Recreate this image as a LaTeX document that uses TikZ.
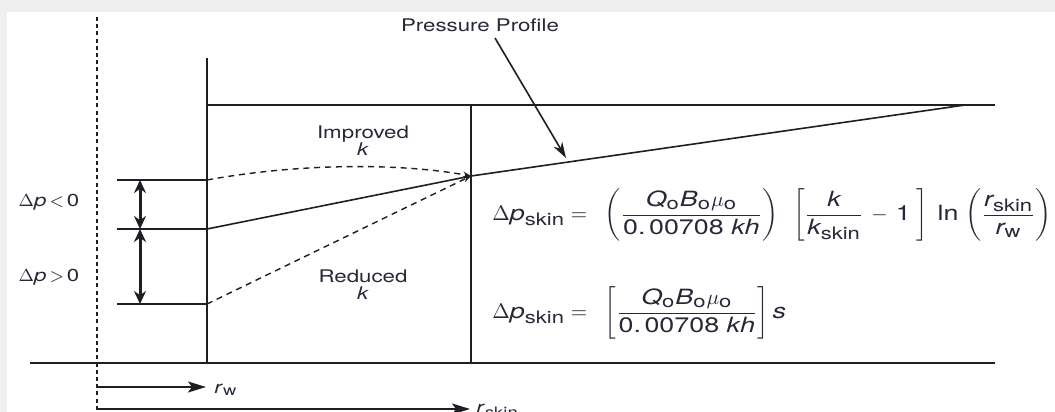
\documentclass[tikz,border=0pt]{standalone}
\usepackage{fix-cm}
\usepackage{amsmath}
\usepackage{fontspec}
\setmainfont[FakeStretch=1.28]{TeX Gyre Heros}
\usetikzlibrary{arrows.meta,positioning,calc}
\definecolor{ink}{HTML}{1E1E24}
\definecolor{textink}{HTML}{262838}
\definecolor{framegray}{HTML}{EFEFEF}
\DeclareMathSizes{10.5}{10.5}{8.6}{7}
\DeclareMathSizes{8.7}{8.7}{7.2}{5.8}
\newcommand{\iv}[1]{\textit{#1}}
\newcommand{\ssub}[1]{_{\text{#1}}}
\tikzset{
  axis/.style={draw=ink, line width=0.8pt},
  profile/.style={draw=ink, line width=0.8pt},
  dashprofile/.style={draw=ink, line width=0.7pt, dash pattern=on 3pt off 2.4pt, -{Stealth[length=4pt,width=3pt]}},
  wellaxis/.style={draw=ink, line width=1pt, dash pattern=on 2pt off 1.6pt},
  dimarrow/.style={{Stealth[length=6.5pt,width=6pt]}-{Stealth[length=6.5pt,width=6pt]}, line width=1.5pt, draw=ink},
  radarrow/.style={-{Stealth[length=9pt,width=5.5pt,inset=2pt]}, line width=0.9pt, draw=ink},
  pointer/.style={-{Stealth[length=8pt,width=5pt]}, line width=0.8pt, draw=ink},
  lbl/.style={font=\fontsize{8.7}{8.5}\selectfont, text=textink, inner sep=0pt, align=center},
  eqn/.style={font=\fontsize{10.5}{12}\selectfont, text=textink, inner sep=0pt, anchor=west}
}

\begin{document}
\begin{tikzpicture}[x=0.5pt,y=-0.5pt]
  \fill[framegray] (0,0) rectangle (1055,412);
  \fill[white] (7,12) rectangle (1055,412);
  \useasboundingbox (0,0) rectangle (1055,412);

  \coordinate (axtop) at (97,17);
  \coordinate (axbot) at (97,412);
  \coordinate (walltop) at (207,58);
  \coordinate (wallbot) at (207,363);
  \coordinate (skintop) at (471,105);
  \coordinate (skinbot) at (471,363);
  \coordinate (farend) at (995,105);
  \coordinate (meet) at (965,105);
  \coordinate (bleft) at (30,363);
  \coordinate (bright) at (995,363);
  \coordinate (hi) at (207,180);
  \coordinate (mid) at (207,229);
  \coordinate (lo) at (207,304);
  \coordinate (hiL) at (117,180);
  \coordinate (midL) at (117,229);
  \coordinate (loL) at (117,304);
  \coordinate (hiA) at (140,180);
  \coordinate (midA) at (140,229);
  \coordinate (loA) at (140,304);
  \coordinate (conv) at (471,176);

  \draw[wellaxis] (axtop) -- (axbot);
  \draw[axis] (walltop) -- (wallbot);
  \draw[axis] (wallbot |- skintop) -- (farend);
  \draw[axis] (skintop) -- (skinbot);
  \draw[axis] (bleft) -- (bright);
  \draw[axis] (hiL) -- (hi);
  \draw[axis] (midL) -- (mid);
  \draw[axis] (loL) -- (lo);

  \draw[profile] (mid) -- (conv) -- (meet);
  \draw[dashprofile] (hi) .. controls (300,163) and (400,163) .. (conv);
  \draw[dashprofile] (lo) -- (conv);

  \draw[dimarrow] (hiA) -- (midA);
  \draw[dimarrow] (midA) -- (loA);

  \node[lbl] (dpneg) at (49,202) {$\Delta\iv{p}\,{<}\,\text{0}$};
  \node[lbl] (dppos) at (49,277) {$\Delta\iv{p}\,{>}\,\text{0}$};
  \node[lbl] (improved) at (363,141) {Improved\\\iv{k}};
  \node[lbl] (reduced) at (363,285) {Reduced\\\iv{k}};

  \node[lbl] (title) at (480,25) {Pressure Profile};
  \coordinate (tip) at (566,158);
  \draw[pointer] (495,38) -- (tip);

  \node[eqn] (eqone) at (492,215) {$\displaystyle \Delta\iv{p}\ssub{skin}=\;\;\left(\frac{\iv{Q}\ssub{o}\iv{B}\ssub{o}\mu\ssub{o}}{\text{0.\,00708 }\iv{kh}}\right)\;\;\left[\frac{\iv{k}}{\iv{k}\ssub{skin}}\,-\,\text{1}\;\right]\;\text{ln}\,\left(\frac{\iv{r}\ssub{skin}}{\iv{r}\ssub{w}}\right)$};
  \node[eqn] (eqtwo) at (492,313) {$\displaystyle \Delta\iv{p}\ssub{skin}=\;\;\left[\frac{\iv{Q}\ssub{o}\iv{B}\ssub{o}\mu\ssub{o}}{\text{0.\,00708 }\iv{kh}}\right]\iv{s}$};

  \coordinate (rwend) at (206,387);
  \coordinate (rskinend) at (470,409);
  \draw[radarrow] (axbot |- rwend) -- (rwend);
  \draw[radarrow] (axbot |- rskinend) -- (rskinend);
  \node[lbl, anchor=west] (rw) at (214,390) {\iv{r}\textsubscript{w}};
  \node[lbl, anchor=west] (rskin) at (476,411) {\iv{r}\textsubscript{skin}};
\end{tikzpicture}
\end{document}
